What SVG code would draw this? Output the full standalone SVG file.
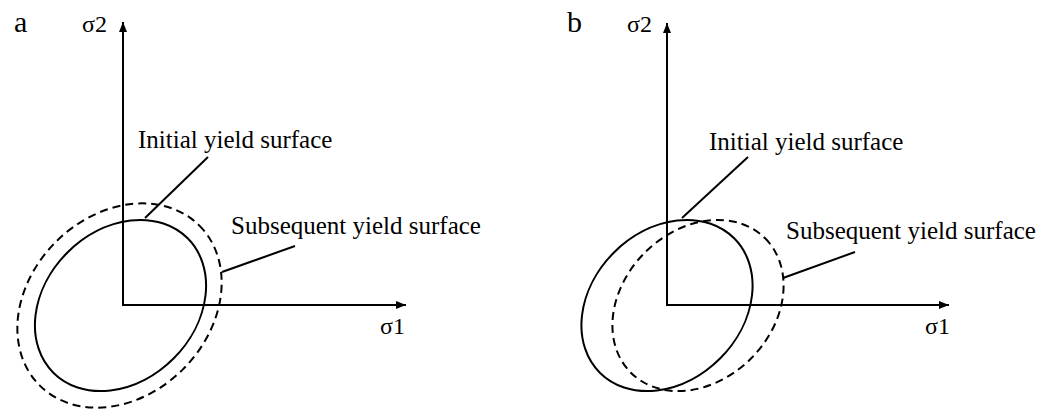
<svg xmlns="http://www.w3.org/2000/svg" width="1061" height="412" viewBox="0 0 1061 412">
  <style>
    .txt { font-family: "Liberation Serif", "Times New Roman", serif; fill: #000; }
    .lbl { font-size: 25px; }
    .sym { font-size: 24px; }
    .pan { font-size: 30px; }
    .axis { stroke: #000; stroke-width: 2; fill: none; }
    .solid { stroke: #000; stroke-width: 2; fill: none; }
    .dash { stroke: #000; stroke-width: 2; fill: none; stroke-dasharray: 8 5; }
    .lead { stroke: #000; stroke-width: 2; fill: none; }
  </style>
  <defs>
    <marker id="arr" markerWidth="10" markerHeight="8" refX="10" refY="4" orient="auto" markerUnits="userSpaceOnUse">
      <path d="M0,0 L10,4 L0,8 Z" fill="#000"/>
    </marker>
  </defs>
  <rect width="1061" height="412" fill="#fff"/>

  <!-- Panel a -->
  <g id="panel-a">
    <text class="txt pan" x="14" y="32">a</text>
    <g id="a-axes">
      <line class="axis" x1="123" y1="306" x2="123" y2="22" marker-end="url(#arr)"/>
      <line class="axis" x1="122" y1="305" x2="406" y2="305" marker-end="url(#arr)"/>
      <text class="txt sym" x="82" y="32">σ2</text>
      <text class="txt sym" x="380" y="334">σ1</text>
    </g>
    <g id="a-initial">
      <ellipse class="solid" cx="120.5" cy="305.5" rx="95" ry="75" transform="rotate(-45 120.5 305.5)"/>
    </g>
    <g id="a-subsequent">
      <ellipse class="dash" cx="119.5" cy="305.5" rx="113" ry="90" transform="rotate(-45 119.5 305.5)"/>
    </g>
    <g id="a-labels">
      <text class="txt lbl" x="138" y="148">Initial yield surface</text>
      <text class="txt lbl" x="231" y="234">Subsequent yield surface</text>
    </g>
  </g>

  <!-- Panel b -->
  <g id="panel-b">
    <text class="txt pan" x="567" y="32">b</text>
    <g id="b-axes">
      <line class="axis" x1="667" y1="306" x2="667" y2="23" marker-end="url(#arr)"/>
      <line class="axis" x1="666" y1="305" x2="949" y2="305" marker-end="url(#arr)"/>
      <text class="txt sym" x="627" y="32">σ2</text>
      <text class="txt sym" x="925" y="334">σ1</text>
    </g>
    <g id="b-initial">
      <ellipse class="solid" cx="667" cy="305.5" rx="95" ry="75" transform="rotate(-45 667 305.5)"/>
    </g>
    <g id="b-subsequent">
      <ellipse class="dash" cx="698" cy="305.5" rx="95" ry="75" transform="rotate(-45 698 305.5)"/>
    </g>
    <g id="b-labels">
      <text class="txt lbl" x="709" y="150">Initial yield surface</text>
      <text class="txt lbl" x="786" y="239">Subsequent yield surface</text>
    </g>
  </g>

  <!-- Connectors (leader lines) -->
  <g id="connectors">
    <line class="lead" x1="208" y1="157" x2="145" y2="218"/>
    <line class="lead" x1="295" y1="246" x2="222" y2="272"/>
    <line class="lead" x1="748" y1="157" x2="682" y2="218"/>
    <line class="lead" x1="855" y1="252" x2="783" y2="278"/>
  </g>
</svg>
